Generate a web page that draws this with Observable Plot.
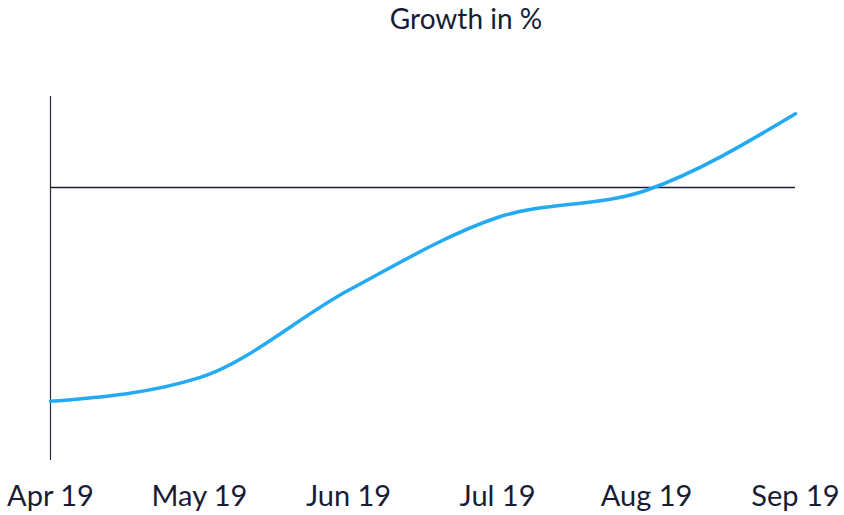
<!DOCTYPE html>
<html>
<head>
<meta charset="utf-8">
<script src="https://cdn.jsdelivr.net/npm/d3@7"></script>
<script src="https://cdn.jsdelivr.net/npm/@observablehq/plot@0.6"></script>
<style>
  html, body { margin: 0; padding: 0; background: #fff; }
  #chart { width: 844px; height: 515px; position: relative; font-family: Lato, "Noto Sans", sans-serif; color: #181c36; }
  #title { height: 50px; line-height: 36px; font-size: 28px; text-align: center; width: 844px; padding-left: 88px; box-sizing: border-box; }
  svg { display: block; }
</style>
</head>
<body>
<div id="chart">
  <div id="title">Growth in %</div>
</div>
<script>
const months = ["Apr 19", "May 19", "Jun 19", "Jul 19", "Aug 19", "Sep 19"];
const growth = [-2.35, -2.09, -1.13, -0.33, -0.03, 0.81];
const yDomain = [-3, 1];

const data = months.map((m, i) => ({month: m, value: growth[i]}));

const chart = Plot.plot({
  width: 844,
  height: 465,
  marginTop: 46,
  marginBottom: 55,
  marginLeft: 48,
  marginRight: 47,
  style: {fontFamily: "Lato, 'Noto Sans', sans-serif", fontSize: "29px", color: "#181c36", background: "#fff"},
  x: {type: "point", domain: months, padding: 0, label: null, tickSize: 0, tickPadding: 25},
  y: {domain: yDomain, axis: null},
  marks: [
    Plot.ruleX([months[0]], {x: d => d, y1: () => yDomain[0], y2: () => yDomain[1], stroke: "#2a2d40", strokeWidth: 1.2}),
    Plot.ruleY([0], {y: d => d, x1: () => months[0], x2: () => months[months.length - 1], stroke: "#1c1f33", strokeWidth: 1.6}),
    Plot.line(data, {x: "month", y: "value", curve: "monotone-x", stroke: "#23aaf2", strokeWidth: 3.5})
  ]
});
document.getElementById("chart").appendChild(chart);
</script>
</body>
</html>
